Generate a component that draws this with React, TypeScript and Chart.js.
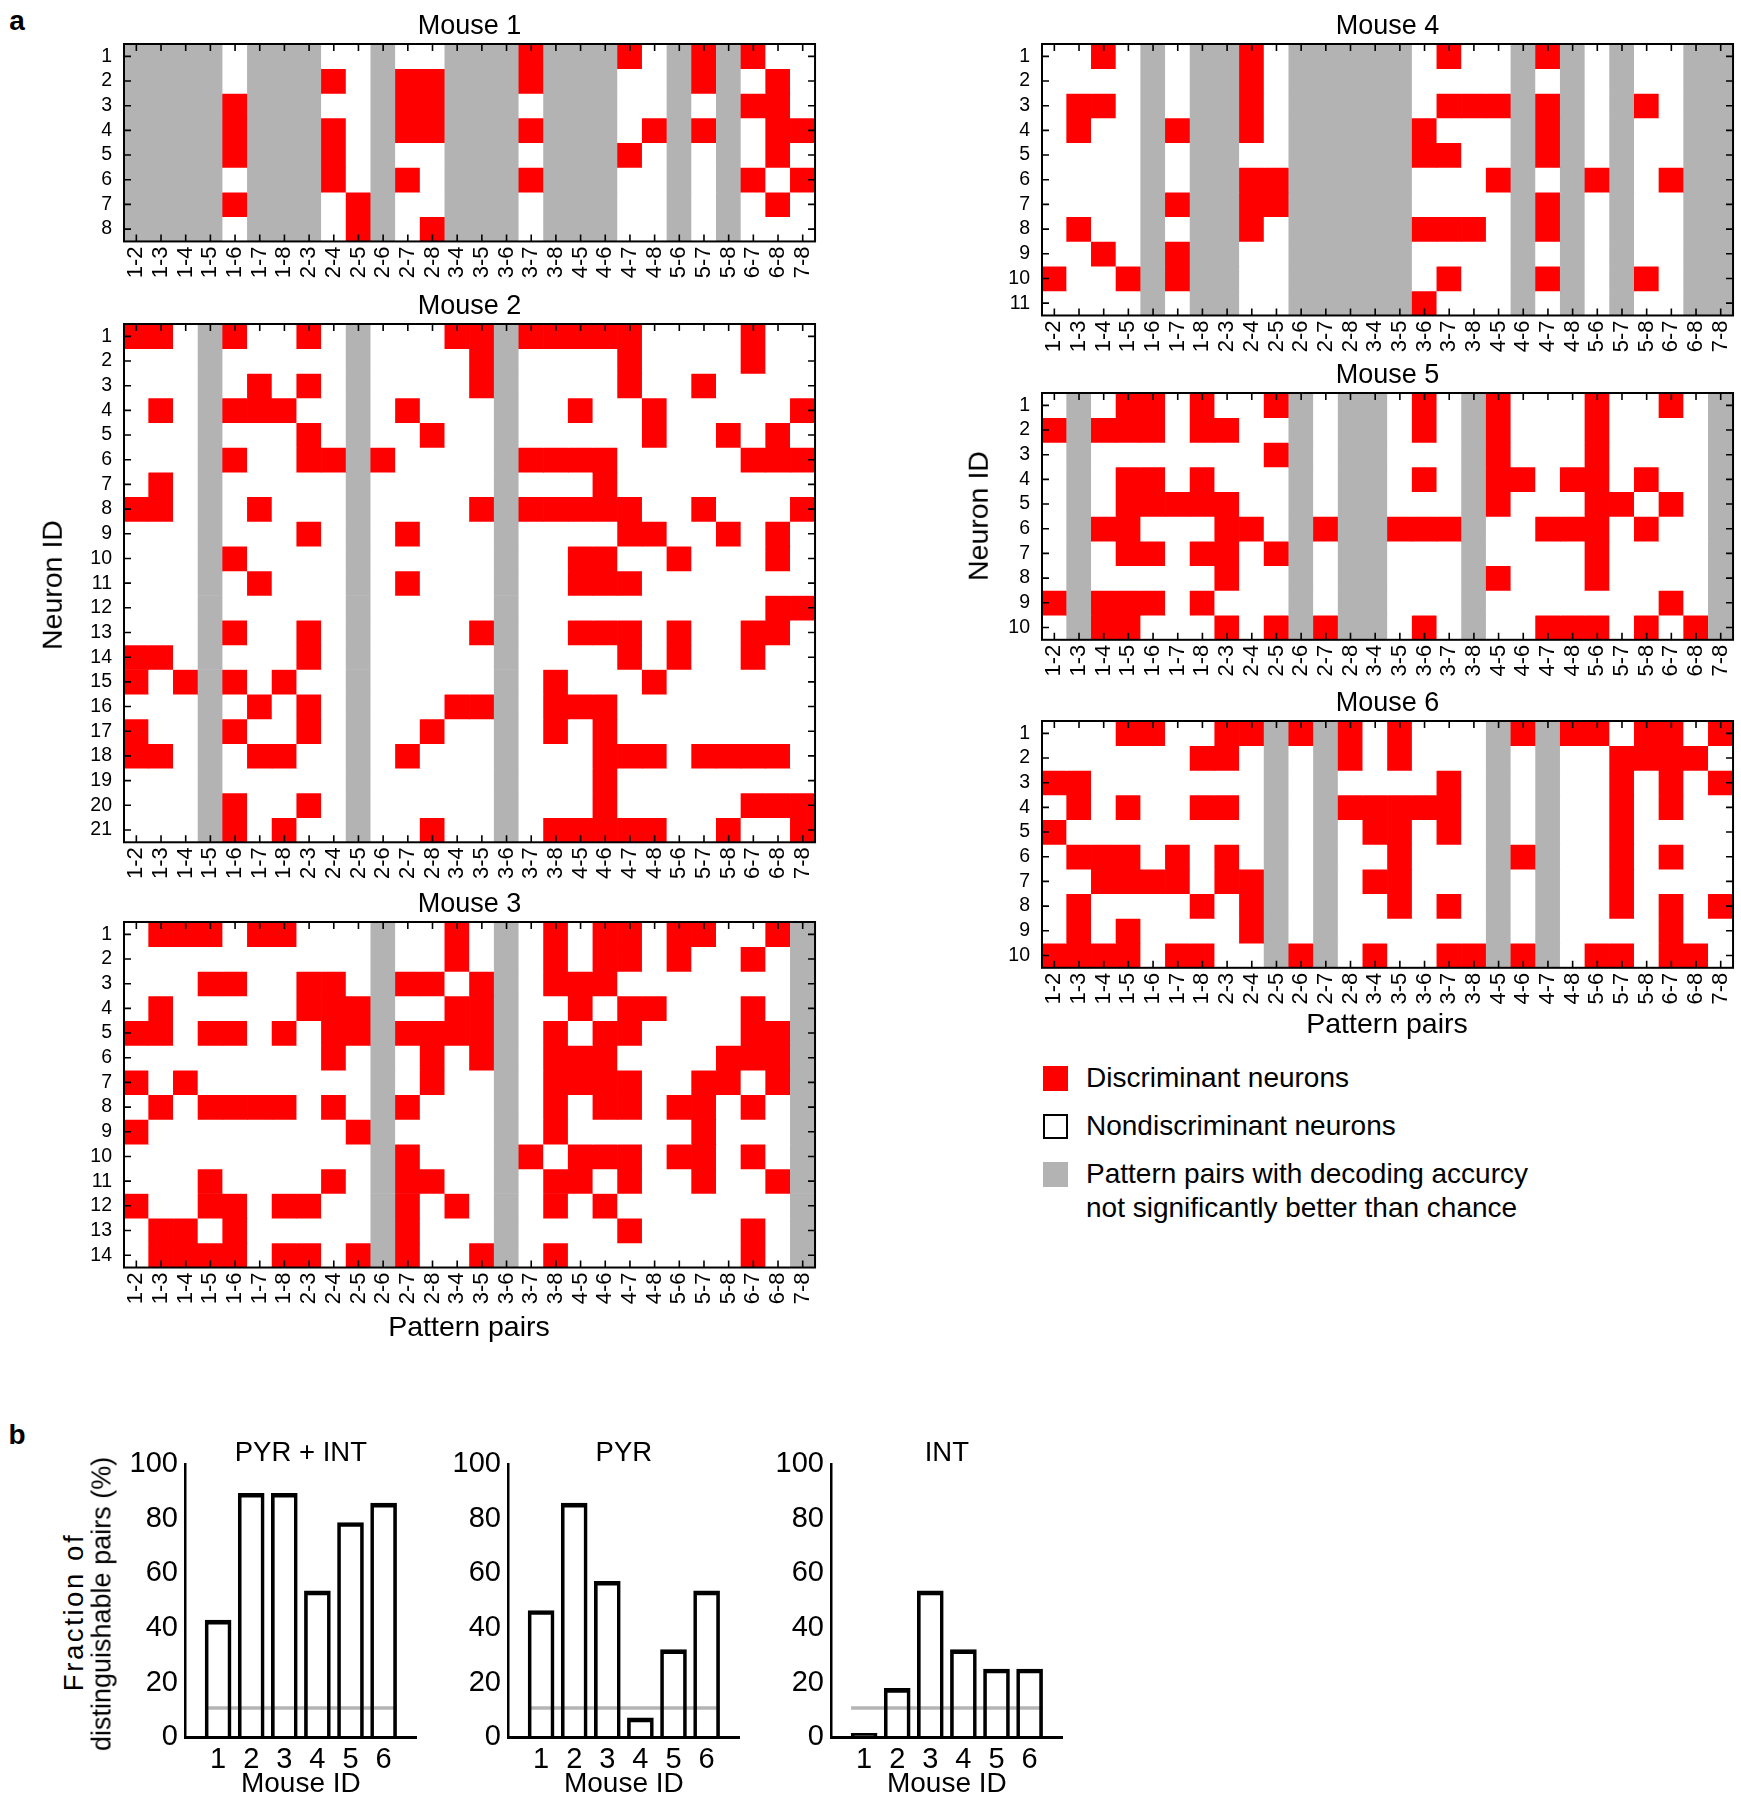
import React, { useEffect, useRef } from "react";
import { Chart, registerables } from "chart.js";

Chart.register(...registerables);

// ---------------- data ----------------
const pairLabels = [
  "1-2", "1-3", "1-4", "1-5", "1-6", "1-7", "1-8", "2-3", "2-4", "2-5", "2-6", "2-7", "2-8", "3-4",
  "3-5", "3-6", "3-7", "3-8", "4-5", "4-6", "4-7", "4-8", "5-6", "5-7", "5-8", "6-7", "6-8", "7-8",
];

// one string per neuron, one char per pattern pair:
// 'x' = discriminant neuron, '.' = nondiscriminant, '-' = pair not decoded better than chance
const mouse1Rows = [
  "----.---..-..---x---x.-x-x..",
  "----.---x.-xx---x---..-x-.x.",
  "----x---..-xx---.---..-.-xx.",
  "----x---x.-xx---x---.x-x-.xx",
  "----x---x.-..---.---x.-.-.x.",
  "----.---x.-x.---x---..-.-x.x",
  "----x---.x-..---.---..-.-.x.",
  "----.---.x-.x---.---..-.-...",
];

const mouse2Rows = [
  "xx.-x..x.-...xx-xxxxx....x..",
  "...-.....-....x-....x....x..",
  "...-.x.x.-....x-....x..x....",
  ".x.-xxx..-.x...-..x..x.....x",
  "...-...x.-..x..-.....x..x.x.",
  "...-x..xx-x....-xxxx.....xxx",
  ".x.-.....-.....-...x........",
  "xx.-.x...-....x-xxxxx..x...x",
  "...-...x.-.x...-....xx..x.x.",
  "...-x....-.....-..xx..x...x.",
  "...-.x...-.x...-..xxx.......",
  "...-.....-.....-..........xx",
  "...-x..x.-....x-..xxx.x..xx.",
  "xx.-...x.-.....-....x.x..x..",
  "x.x-x.x..-.....-.x...x......",
  "...-.x.x.-...xx-.xxx........",
  "x..-x..x.-..x..-.x.x........",
  "xx.-.xx..-.x...-...xxx.xxxx.",
  "...-.....-.....-...x........",
  "...-x..x.-.....-...x.....xxx",
  "...-x.x..-..x..-.xxxxx..x..x",
];

const mouse3Rows = [
  ".xxx.xx...-..x.-.x.xx.xx..x-",
  "..........-..x.-.x.xx.x..x.-",
  "...xx..xx.-xx.x-.xxx.......-",
  ".x.....xxx-..xx-..x.xx...x.-",
  "xx.xx.x.xx-xxxx-.x.xx....xx-",
  "........x.-.x.x-.xxx....xxx-",
  "x.x.......-.x..-.xxxx..xx.x-",
  ".x.xxxx.x.-x...-.x.xx.xx.x.-",
  "x........x-....-.x.....x...-",
  "..........-x...-x.xxx.xx.x.-",
  "...x....x.-xx..-.xx.x..x..x-",
  "x..xx.xx..-x.x.-.x.x.......-",
  ".xx.x.....-x...-....x....x.-",
  ".xxxx.xx.x-x..x-.x.......x.-",
];

const mouse4Rows = [
  "..x.-.--x.-----.x..-x-.-..--",
  "....-.--x.-----....-.-.-..--",
  ".xx.-.--x.-----.xxx-x-.-x.--",
  ".x..-x--x.-----x...-x-.-..--",
  "....-.--..-----xx..-x-.-..--",
  "....-.--xx-----...x-.-x-.x--",
  "....-x--xx-----....-x-.-..--",
  ".x..-.--x.-----xxx.-x-.-..--",
  "..x.-x--..-----....-.-.-..--",
  "x..x-x--..-----.x..-x-.-x.--",
  "....-.--..-----x...-.-.-..--",
];

const mouse5Rows = [
  ".-.xx.x..x-.--.x.-x...x..x.-",
  "x-xxx.xx..-.--.x.-x...x....-",
  ".-.......x-.--...-x...x....-",
  ".-.xx.x...-.--.x.-xx.xx.x..-",
  ".-.xxxxx..-.--...-x...xx.x.-",
  ".-xx...xx.-x--xxx-..xxx.x..-",
  ".-.xx.xx.x-.--...-....x....-",
  ".-.....x..-.--...-x...x....-",
  "x-xxx.x...-.--...-.......x.-",
  ".-xx...x.x-x--.x.-..xxx.x.x-",
];

const mouse6Rows = [
  "...xx..xx-x-x.x...-x-xx.xx.x",
  "......xx.-.-x.x...-.-..xxxx.",
  "xx.......-.-....x.-.-..x.x.x",
  ".x.x..xx.-.-xxxxx.-.-..x.x..",
  "x........-.-.xx.x.-.-..x....",
  ".xxx.x.x.-.-..x...-x-..x.x..",
  "..xxxx.xx-.-.xx...-.-..x....",
  ".x....x.x-.-..x.x.-.-..x.x.x",
  ".x.x....x-.-......-.-....x..",
  "xxxx.xx..-x-.x..xx-x-.xx.xx.",
];

const mouseIds = ["1", "2", "3", "4", "5", "6"];
const pyrIntValues = [42.9, 89.3, 89.3, 53.6, 78.6, 85.7];
const pyrValues = [46.4, 85.7, 57.1, 7.1, 32.1, 53.6];
const intValues = [0, 17.9, 53.6, 32.1, 25.0, 25.0];
const chanceLevel = 10.7;
const yTicks = [0, 20, 40, 60, 80, 100];

// ---------------- style ----------------
const FONT = '"Liberation Sans", Arial, Helvetica, sans-serif';
const RED = "#ff0000";
const GRAY = "#b3b3b3";
const WHITE = "#ffffff";
const CELL = 24.68;
const HM_Y_W = 60;
const HM_X_H = 50;
const HM_TITLE_SIZE = 27;
const HM_TITLE_PAD_TOP = 5;
const HM_TITLE_PAD_BOTTOM = 4;
const HM_TITLE_H = HM_TITLE_PAD_TOP + HM_TITLE_SIZE + HM_TITLE_PAD_BOTTOM;

const frameTicksPlugin = {
  id: "frameTicks",
  afterDatasetsDraw(chart: any) {
    const { ctx, chartArea: a, scales } = chart;
    const tl = 7;
    ctx.save();
    ctx.strokeStyle = "#000";
    ctx.lineWidth = 1.6;
    ctx.beginPath();
    scales.x.ticks.forEach((_: any, i: number) => {
      const px = scales.x.getPixelForTick(i);
      ctx.moveTo(px, a.top);
      ctx.lineTo(px, a.top + tl);
      ctx.moveTo(px, a.bottom);
      ctx.lineTo(px, a.bottom - tl);
    });
    scales.y.ticks.forEach((_: any, i: number) => {
      const py = scales.y.getPixelForTick(i);
      ctx.moveTo(a.left, py);
      ctx.lineTo(a.left + tl, py);
      ctx.moveTo(a.right, py);
      ctx.lineTo(a.right - tl, py);
    });
    ctx.stroke();
    ctx.lineWidth = 2;
    ctx.strokeRect(a.left, a.top, a.right - a.left, a.bottom - a.top);
    ctx.restore();
  },
};

function Heatmap(props: { title: string; rows: string[]; plotLeft: number; plotTop: number }) {
  const { title, rows, plotLeft, plotTop } = props;
  const ref = useRef<HTMLCanvasElement>(null);
  const n = rows.length;
  const plotW = CELL * pairLabels.length;
  const plotH = CELL * n;
  const canvasW = Math.ceil(HM_Y_W + plotW + 12);
  const canvasH = Math.ceil(HM_TITLE_H + plotH + HM_X_H);
  const left = plotLeft - HM_Y_W;
  const top = plotTop - HM_TITLE_H;

  useEffect(() => {
    if (!ref.current) return;
    const datasets = rows.map((row, i) => ({
      label: "Neuron " + (i + 1),
      data: pairLabels.map(() => 1),
      backgroundColor: row.split("").map((ch) => (ch === "x" ? RED : ch === "-" ? GRAY : WHITE)),
      borderWidth: 0,
      barPercentage: 1,
      categoryPercentage: 1,
      stack: "neurons",
    }));
    const chart = new Chart(ref.current, {
      type: "bar",
      data: { labels: pairLabels, datasets },
      options: {
        responsive: false,
        animation: false,
        events: [],
        layout: {
          autoPadding: false,
          padding: {
            left: 0,
            top: 0,
            right: canvasW - HM_Y_W - plotW,
            bottom: canvasH - HM_TITLE_H - plotH - HM_X_H,
          },
        },
        plugins: {
          legend: { display: false },
          tooltip: { enabled: false },
          title: {
            display: true,
            fullSize: false,
            text: title,
            color: "#000",
            font: { family: FONT, size: HM_TITLE_SIZE, weight: "normal", lineHeight: 1 },
            padding: { top: HM_TITLE_PAD_TOP, bottom: HM_TITLE_PAD_BOTTOM },
          },
        },
        scales: {
          x: {
            stacked: true,
            grid: { display: false, drawTicks: false },
            border: { display: false },
            ticks: {
              autoSkip: false,
              maxRotation: 90,
              minRotation: 90,
              padding: 5,
              color: "#000",
              font: { family: FONT, size: 22 },
            },
            afterFit: (s: any) => {
              s.height = HM_X_H;
              s.paddingLeft = 0;
              s.paddingRight = 0;
            },
          },
          y: {
            stacked: true,
            reverse: true,
            min: 0,
            max: n,
            grid: { display: false, drawTicks: false },
            border: { display: false },
            afterBuildTicks: (s: any) => {
              s.ticks = rows.map((_, i) => ({ value: i + 0.5 }));
            },
            ticks: {
              autoSkip: false,
              padding: 12,
              color: "#000",
              font: { family: FONT, size: 19.5 },
              callback: (v: any) => String(Number(v) + 0.5),
            },
            afterFit: (s: any) => {
              s.width = HM_Y_W;
              s.paddingTop = 0;
              s.paddingBottom = 0;
            },
          },
        },
      } as any,
      plugins: [frameTicksPlugin],
    });
    return () => chart.destroy();
  }, []);

  return (
    <canvas
      ref={ref}
      width={canvasW}
      height={canvasH}
      style={{ position: "absolute", left, top, width: canvasW, height: canvasH }}
    />
  );
}

// ---------------- bar panels ----------------
const BAR_Y_W = 70;
const BAR_X_H = 62.7;
const BAR_PLOT_W = 7 * 33.1;
const BAR_CANVAS_W = 312;
const BAR_CANVAS_TOP = 1432;
const BAR_CANVAS_H = 368;

const chancePlugin = {
  id: "chanceLine",
  beforeDatasetsDraw(chart: any) {
    const meta = chart.getDatasetMeta(0);
    const bars = meta.data;
    if (!bars.length) return;
    const x0 = bars[0].x - bars[0].width / 2;
    const x1 = bars[bars.length - 1].x + bars[bars.length - 1].width / 2;
    const y = chart.scales.y.getPixelForValue(chanceLevel);
    const ctx = chart.ctx;
    ctx.save();
    ctx.strokeStyle = "#b4b4b4";
    ctx.lineWidth = 3.5;
    ctx.beginPath();
    ctx.moveTo(x0, y);
    ctx.lineTo(x1, y);
    ctx.stroke();
    ctx.restore();
  },
};

function FractionPanel(props: { title: string; values: number[]; axisX: number }) {
  const { title, values, axisX } = props;
  const ref = useRef<HTMLCanvasElement>(null);
  const left = axisX - BAR_Y_W;

  useEffect(() => {
    if (!ref.current) return;
    const chart = new Chart(ref.current, {
      type: "bar",
      data: {
        datasets: [
          {
            label: title,
            data: values.map((v, i) => ({ x: i + 1, y: v })),
            backgroundColor: "rgba(255,255,255,0)",
            borderColor: "#000",
            borderWidth: { top: 4, left: 3, right: 3, bottom: 0 },
            borderSkipped: "start",
            barThickness: 26,
            minBarLength: 4,
          },
        ],
      },
      options: {
        responsive: false,
        animation: false,
        events: [],
        layout: {
          autoPadding: false,
          padding: { left: 0, top: 0, bottom: 0, right: BAR_CANVAS_W - BAR_Y_W - BAR_PLOT_W },
        },
        plugins: {
          legend: { display: false },
          tooltip: { enabled: false },
          title: {
            display: true,
            fullSize: false,
            text: title,
            color: "#000",
            font: { family: FONT, size: 27.5, weight: "normal", lineHeight: 0.8 },
            padding: { top: 10, bottom: 0 },
          },
        },
        scales: {
          x: {
            type: "linear",
            offset: false,
            min: 0,
            max: 7,
            grid: { display: false, drawTicks: false },
            border: { display: true, color: "#000", width: 3 },
            afterBuildTicks: (s: any) => {
              s.ticks = mouseIds.map((_, i) => ({ value: i + 1 }));
            },
            ticks: {
              autoSkip: false,
              padding: 5,
              color: "#000",
              font: { family: FONT, size: 29 },
              callback: (v: any) => mouseIds[Number(v) - 1] ?? "",
            },
            title: {
              display: true,
              text: "Mouse ID",
              color: "#000",
              padding: 0,
              font: { family: FONT, size: 28, lineHeight: 1.1 },
            },
            afterFit: (s: any) => {
              s.height = BAR_X_H;
              s.paddingLeft = 0;
              s.paddingRight = 0;
            },
          },
          y: {
            min: 0,
            max: 100,
            grid: { display: false, drawTicks: false },
            border: { display: true, color: "#000", width: 2.5 },
            afterBuildTicks: (s: any) => {
              s.ticks = yTicks.map((v) => ({ value: v }));
            },
            ticks: {
              autoSkip: false,
              padding: 7,
              color: "#000",
              font: { family: FONT, size: 29 },
            },
            afterFit: (s: any) => {
              s.width = BAR_Y_W;
              s.paddingTop = 0;
              s.paddingBottom = 0;
            },
          },
        },
      } as any,
      plugins: [chancePlugin],
    });
    return () => chart.destroy();
  }, []);

  return (
    <canvas
      ref={ref}
      width={BAR_CANVAS_W}
      height={BAR_CANVAS_H}
      style={{ position: "absolute", left, top: BAR_CANVAS_TOP, width: BAR_CANVAS_W, height: BAR_CANVAS_H }}
    />
  );
}

// ---------------- text helpers ----------------
function Label(props: { x: number; y: number; size: number; text: string; bold?: boolean; rotate?: boolean; spacing?: number }) {
  const { x, y, size, text, bold, rotate, spacing } = props;
  return (
    <div
      style={{
        position: "absolute",
        left: x,
        top: y,
        transform: "translate(-50%, -50%)" + (rotate ? " rotate(-90deg)" : ""),
        fontFamily: FONT,
        fontSize: size,
        fontWeight: bold ? "bold" : "normal",
        whiteSpace: "nowrap",
        lineHeight: 1,
        letterSpacing: spacing ? spacing + "px" : undefined,
        color: "#000",
      }}
    >
      {text}
    </div>
  );
}

function LegendRow(props: { y: number; color: string; border?: boolean; lines: string[] }) {
  const { y, color, border, lines } = props;
  return (
    <>
      <div
        style={{
          position: "absolute",
          left: 1043,
          top: y - 12.5,
          width: 25,
          height: 25,
          boxSizing: "border-box",
          background: color,
          border: border ? "2px solid #000" : "none",
        }}
      />
      {lines.map((t, i) => (
        <div
          key={i}
          style={{
            position: "absolute",
            left: 1086,
            top: y - 16 + i * 34,
            height: 32,
            lineHeight: "32px",
            fontFamily: FONT,
            fontSize: 28,
            whiteSpace: "nowrap",
            color: "#000",
          }}
        >
          {t}
        </div>
      ))}
    </>
  );
}

export default function App() {
  return (
    <div
      style={{
        position: "absolute",
        left: 0,
        top: 0,
        width: 1741,
        height: 1800,
        overflow: "hidden",
        background: "#fff",
        fontFamily: FONT,
      }}
    >
      <Heatmap title="Mouse 1" rows={mouse1Rows} plotLeft={124} plotTop={44} />
      <Heatmap title="Mouse 2" rows={mouse2Rows} plotLeft={124} plotTop={324} />
      <Heatmap title="Mouse 3" rows={mouse3Rows} plotLeft={124} plotTop={922} />
      <Heatmap title="Mouse 4" rows={mouse4Rows} plotLeft={1042} plotTop={44} />
      <Heatmap title="Mouse 5" rows={mouse5Rows} plotLeft={1042} plotTop={393} />
      <Heatmap title="Mouse 6" rows={mouse6Rows} plotLeft={1042} plotTop={721} />

      <FractionPanel title="PYR + INT" values={pyrIntValues} axisX={185} />
      <FractionPanel title="PYR" values={pyrValues} axisX={508} />
      <FractionPanel title="INT" values={intValues} axisX={831} />

      <Label x={17} y={21} size={28} text="a" bold />
      <Label x={17} y={1435} size={28} text="b" bold />
      <Label x={52} y={585} size={28.5} text="Neuron ID" rotate />
      <Label x={978} y={516} size={28.5} text="Neuron ID" rotate />
      <Label x={469} y={1326} size={28.5} text="Pattern pairs" />
      <Label x={1387} y={1023} size={28.5} text="Pattern pairs" />
      <Label x={74} y={1612} size={27.5} text="Fraction of" rotate spacing={2.6} />
      <Label x={102} y={1604} size={27} text="distinguishable pairs (%)" rotate />

      <LegendRow y={1078} color={RED} lines={["Discriminant neurons"]} />
      <LegendRow y={1126} color={WHITE} border lines={["Nondiscriminant neurons"]} />
      <LegendRow y={1174} color={GRAY} lines={["Pattern pairs with decoding accurcy", "not significantly better than chance"]} />
    </div>
  );
}
